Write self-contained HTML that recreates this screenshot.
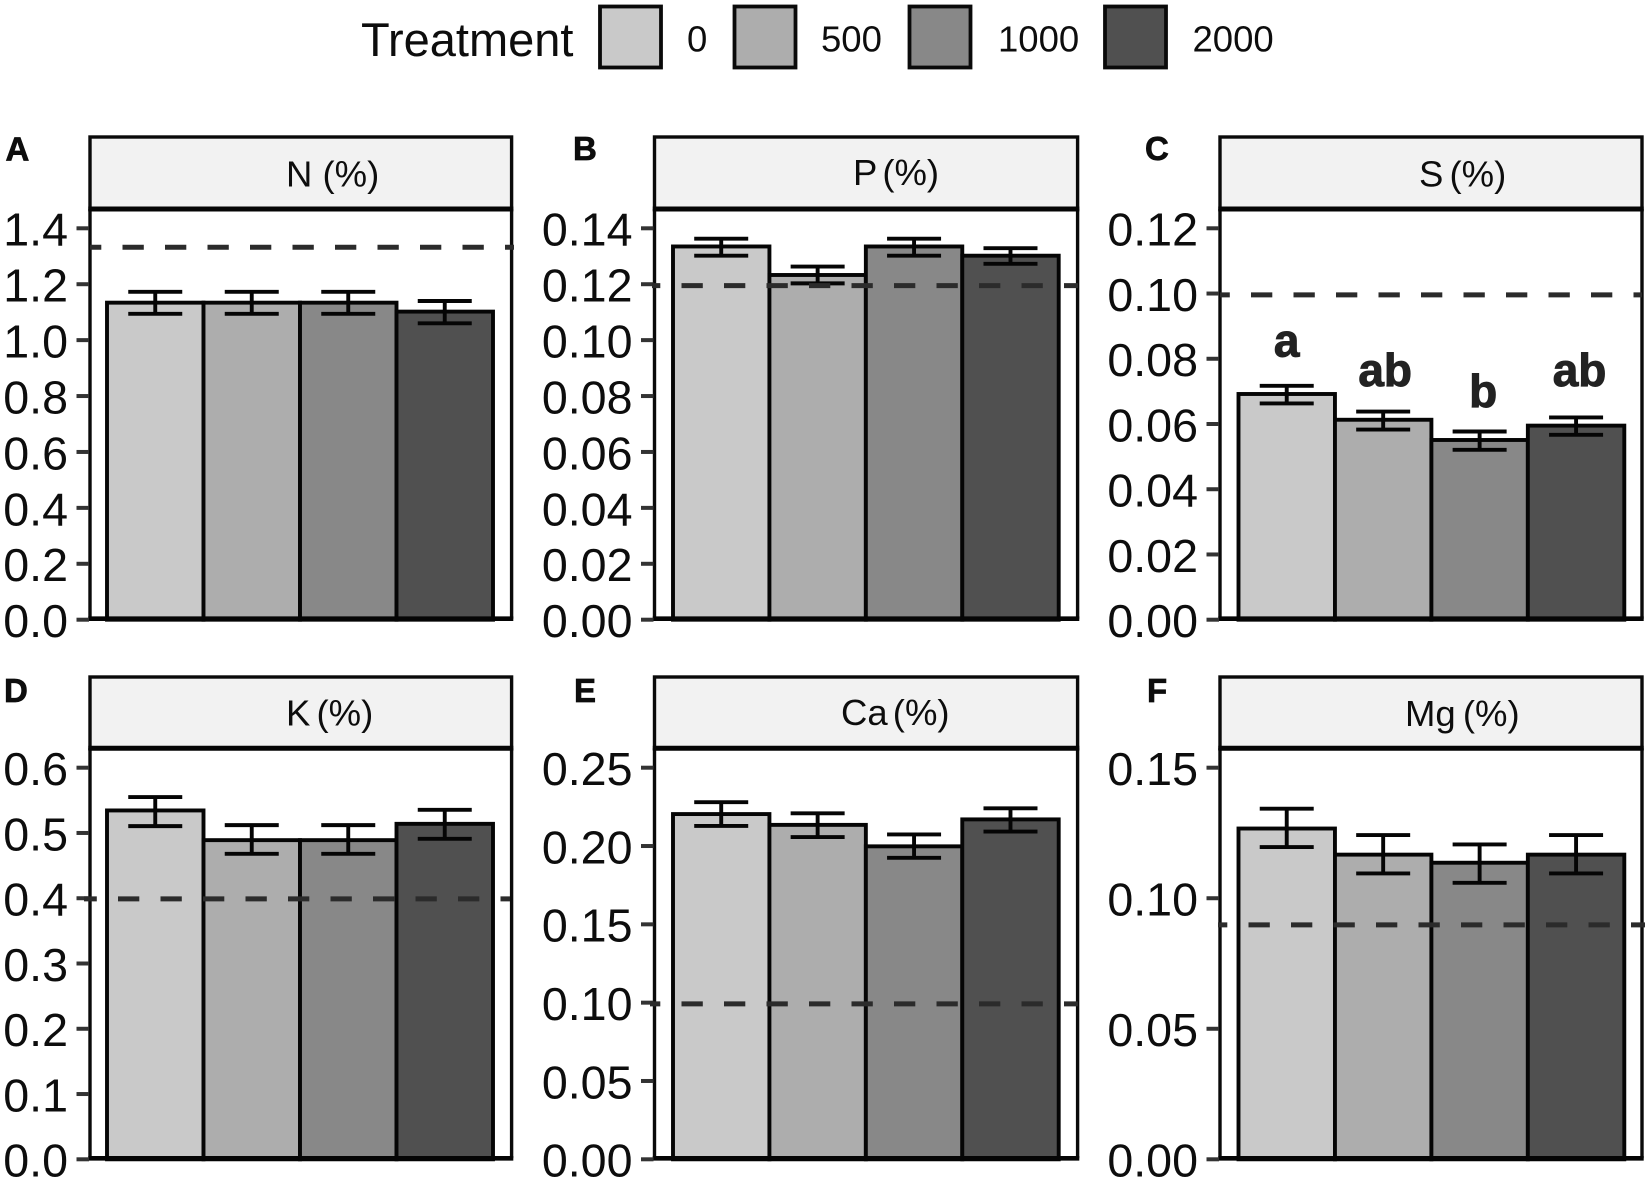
<!DOCTYPE html>
<html lang="en">
<head>
<meta charset="utf-8">
<title>Leaf nutrient concentrations by treatment</title>
<style>
  html, body { margin: 0; padding: 0; background: #fff; }
  body { width: 1650px; height: 1182px; overflow: hidden; }
  svg { display: block; }
  text { font-family: "Liberation Sans", Arial, sans-serif; fill: #0d0d0d; }
</style>
</head>
<body>
<svg id="chart" width="1650" height="1182" viewBox="0 0 1650 1182" xmlns="http://www.w3.org/2000/svg">
  <rect x="0" y="0" width="1650" height="1182" fill="#ffffff"/>

  <g>
    <text x="361" y="56" font-size="47">Treatment</text>
    <rect x="600" y="6.5" width="61" height="61" fill="#c9c9c9" stroke="#0a0a0a" stroke-width="3.8"/>
    <text x="687" y="51.5" font-size="36.5">0</text>
    <rect x="734.5" y="6.5" width="61" height="61" fill="#adadad" stroke="#0a0a0a" stroke-width="3.8"/>
    <text x="821" y="51.5" font-size="36.5">500</text>
    <rect x="909.5" y="6.5" width="61" height="61" fill="#888888" stroke="#0a0a0a" stroke-width="3.8"/>
    <text x="998" y="51.5" font-size="36.5">1000</text>
    <rect x="1105" y="6.5" width="61" height="61" fill="#505050" stroke="#0a0a0a" stroke-width="3.8"/>
    <text x="1192.5" y="51.5" font-size="36.5">2000</text>
  </g>

  <g id="panels"></g>

  <g font-weight="700" font-size="33" stroke="#0d0d0d" stroke-width="0.7">
    <text x="5.5" y="160.5" font-weight="700">A</text>
    <text x="573" y="160" font-weight="700">B</text>
    <text x="1145" y="160" font-weight="700">C</text>
    <text x="4" y="702" font-weight="700">D</text>
    <text x="574" y="702" font-weight="700">E</text>
    <text x="1147" y="702" font-weight="700">F</text>
  </g>

  <g font-size="36.5">
    <text x="286" y="186.5">N (%)</text>
    <text x="853" y="185" word-spacing="-4.5">P (%)</text>
    <text x="1419" y="186.5" word-spacing="-4">S (%)</text>
    <text x="286" y="725.5" word-spacing="-4">K (%)</text>
    <text x="841" y="725" word-spacing="-5">Ca (%)</text>
    <text x="1405" y="726" word-spacing="-3">Mg (%)</text>
  </g>
</svg>

<script>
const treatments = ['0', '500', '1000', '2000'];

const nValues = [1.134, 1.134, 1.134, 1.102];
const nHigh = [1.173, 1.173, 1.173, 1.14];
const nLow = [1.094, 1.094, 1.094, 1.06];
const nReference = 1.332;
const nTicks = ['0.0', '0.2', '0.4', '0.6', '0.8', '1.0', '1.2', '1.4'];

const pValues = [0.1335, 0.1233, 0.1335, 0.1302];
const pHigh = [0.1363, 0.1263, 0.1363, 0.1329];
const pLow = [0.1302, 0.1203, 0.1302, 0.1273];
const pReference = 0.1195;
const pTicks = ['0.00', '0.02', '0.04', '0.06', '0.08', '0.10', '0.12', '0.14'];

const sValues = [0.0692, 0.0613, 0.0551, 0.0595];
const sHigh = [0.0717, 0.0638, 0.0577, 0.062];
const sLow = [0.0663, 0.0583, 0.0521, 0.0567];
const sReference = 0.0996;
const sTicks = ['0.00', '0.02', '0.04', '0.06', '0.08', '0.10', '0.12'];
const sLetters = ['a', 'ab', 'b', 'ab'];
const sLetterLevels = [0.0807, 0.0717, 0.0652, 0.0717];

const kValues = [0.5345, 0.489, 0.489, 0.514];
const kHigh = [0.555, 0.512, 0.512, 0.5355];
const kLow = [0.5105, 0.468, 0.468, 0.491];
const kReference = 0.399;
const kTicks = ['0.0', '0.1', '0.2', '0.3', '0.4', '0.5', '0.6'];

const caValues = [0.2204, 0.2135, 0.1998, 0.217];
const caHigh = [0.228, 0.2209, 0.2074, 0.2241];
const caLow = [0.2128, 0.2057, 0.1925, 0.2092];
const caReference = 0.0992;
const caTicks = ['0.00', '0.05', '0.10', '0.15', '0.20', '0.25'];

const mgValues = [0.1267, 0.1167, 0.1136, 0.1167];
const mgHigh = [0.1343, 0.1242, 0.1206, 0.1242];
const mgLow = [0.1196, 0.1095, 0.1059, 0.1095];
const mgReference = 0.0898;
const mgTicks = ['0.00', '0.05', '0.10', '0.15'];

const barFills = ['#c9c9c9', '#adadad', '#888888', '#505050'];
const SVG_NS = 'http://www.w3.org/2000/svg';
const root = document.getElementById('panels');

function shape(parent, tag, attrs) {
  const node = document.createElementNS(SVG_NS, tag);
  for (const key in attrs) node.setAttribute(key, attrs[key]);
  parent.appendChild(node);
  return node;
}

function drawPanel(p) {
  const group = shape(root, 'g', {});
  
  

  const topValue = parseFloat(p.ticks[p.ticks.length - 1]);
  const yScale = v => p.zeroY - (v / topValue) * (p.zeroY - p.topTickY);
  const band = (p.barRight - p.barLeft) / p.values.length;
  const xScale = i => p.barLeft + i * band;

  const bg = shape(group, 'rect', { x: p.left, y: p.stripBottom, width: p.right - p.left, height: p.bottom - p.stripBottom, fill: '#ffffff' });
  
  

  p.values.forEach((v, i) => {
    const bar = shape(group, 'rect', {
      x: xScale(i), y: yScale(v), width: band, height: yScale(0) - yScale(v),
      fill: barFills[i], stroke: '#050505', 'stroke-width': 3.9
    });
    
    
  });

  p.values.forEach((v, i) => {
    const cx = xScale(i) + band / 2;
    const capHalf = 27;
    const err = shape(group, 'path', {
      d: 'M' + (cx - capHalf) + ' ' + yScale(p.high[i]) + 'H' + (cx + capHalf) +
         'M' + cx + ' ' + yScale(p.high[i]) + 'V' + yScale(p.low[i]) +
         'M' + (cx - capHalf) + ' ' + yScale(p.low[i]) + 'H' + (cx + capHalf),
      fill: 'none', stroke: '#050505', 'stroke-width': 3.9
    });
    
    
  });

  const frame = shape(group, 'path', {
    d: 'M' + p.left + ' ' + p.stripBottom + 'V' + p.bottom + 'M' + p.right + ' ' + p.stripBottom + 'V' + p.bottom,
    fill: 'none', stroke: '#0a0a0a', 'stroke-width': 3.4
  });
  
  

  const baseLine = shape(group, 'line', { x1: p.left - 1.7, x2: p.right + 1.7, y1: p.bottom, y2: p.bottom, stroke: '#050505', 'stroke-width': 4.6 });
  
  

  const strip = shape(group, 'rect', { x: p.left, y: p.stripTop, width: p.right - p.left, height: p.stripBottom - p.stripTop, fill: '#f2f2f2', stroke: '#0a0a0a', 'stroke-width': 3.4 });
  
  

  const stripLine = shape(group, 'line', { x1: p.left - 1.7, x2: p.right + 1.7, y1: p.stripBottom, y2: p.stripBottom, stroke: '#050505', 'stroke-width': 5 });
  
  

  p.ticks.forEach(label => {
    const y = yScale(parseFloat(label));
    const tick = shape(group, 'line', { x1: p.left - 13.5, x2: p.left - 1, y1: y, y2: y, stroke: '#333333', 'stroke-width': 4 });
    
    
    const text = shape(group, 'text', { x: p.left - 22, y: y + 17.4, 'font-size': 46.6, 'text-anchor': 'end' });
    text.textContent = label;
    
    
  });

  const refY = yScale(p.reference);
  const ref = shape(group, 'line', {
    x1: p.refStart, x2: p.refEnd, y1: refY, y2: refY,
    stroke: '#2b2b2b', 'stroke-width': 5,
    'stroke-dasharray': '21.3 21.2', 'stroke-dashoffset': p.refOffset
  });
  
  

  if (p.letters) {
    p.letters.forEach((letter, i) => {
      const label = shape(group, 'text', {
        x: xScale(i) + band / 2 + p.letterShift[i], y: yScale(p.letterLevels[i]),
        'font-size': 46, 'font-weight': 700, 'text-anchor': 'middle',
        stroke: '#222222', 'stroke-width': 1, style: 'fill:#222222'
      });
      label.textContent = letter;
      
      
    });
  }
}

const row1 = { stripTop: 137, stripBottom: 209, bottom: 618.7, zeroY: 619.7, topTickY: 228.3 };
const row2 = { stripTop: 677, stripBottom: 748.3, bottom: 1158.3, zeroY: 1159.3, topTickY: 767.7 };

drawPanel(Object.assign({}, row1, {
  id: 'n', left: 90, right: 511.6, barLeft: 107, barRight: 493,
  values: nValues, high: nHigh, low: nLow, reference: nReference, ticks: nTicks,
  refStart: 90, refEnd: 514, refOffset: 10
}));
drawPanel(Object.assign({}, row1, {
  id: 'p', left: 654.5, right: 1077.6, barLeft: 673, barRight: 1058.7,
  values: pValues, high: pHigh, low: pLow, reference: pReference, ticks: pTicks,
  refStart: 652, refEnd: 1078, refOffset: 13
}));
drawPanel(Object.assign({}, row1, {
  id: 's', left: 1220, right: 1642, barLeft: 1238.5, barRight: 1624.3,
  values: sValues, high: sHigh, low: sLow, reference: sReference, ticks: sTicks,
  refStart: 1220, refEnd: 1642, refOffset: 11.5,
  letters: sLetters, letterLevels: sLetterLevels, letterShift: [0, 2, 3.5, 3.5]
}));
drawPanel(Object.assign({}, row2, {
  id: 'k', left: 90, right: 511.6, barLeft: 107, barRight: 493,
  values: kValues, high: kHigh, low: kLow, reference: kReference, ticks: kTicks,
  refStart: 84, refEnd: 510, refOffset: 8.5
}));
drawPanel(Object.assign({}, row2, {
  id: 'ca', left: 654.5, right: 1077.6, barLeft: 673, barRight: 1058.7,
  values: caValues, high: caHigh, low: caLow, reference: caReference, ticks: caTicks,
  refStart: 650, refEnd: 1078, refOffset: 11
}));
drawPanel(Object.assign({}, row2, {
  id: 'mg', left: 1220, right: 1642, barLeft: 1238.5, barRight: 1624.3,
  values: mgValues, high: mgHigh, low: mgLow, reference: mgReference, ticks: mgTicks,
  refStart: 1218, refEnd: 1645, refOffset: 12
}));
</script>
</body>
</html>
